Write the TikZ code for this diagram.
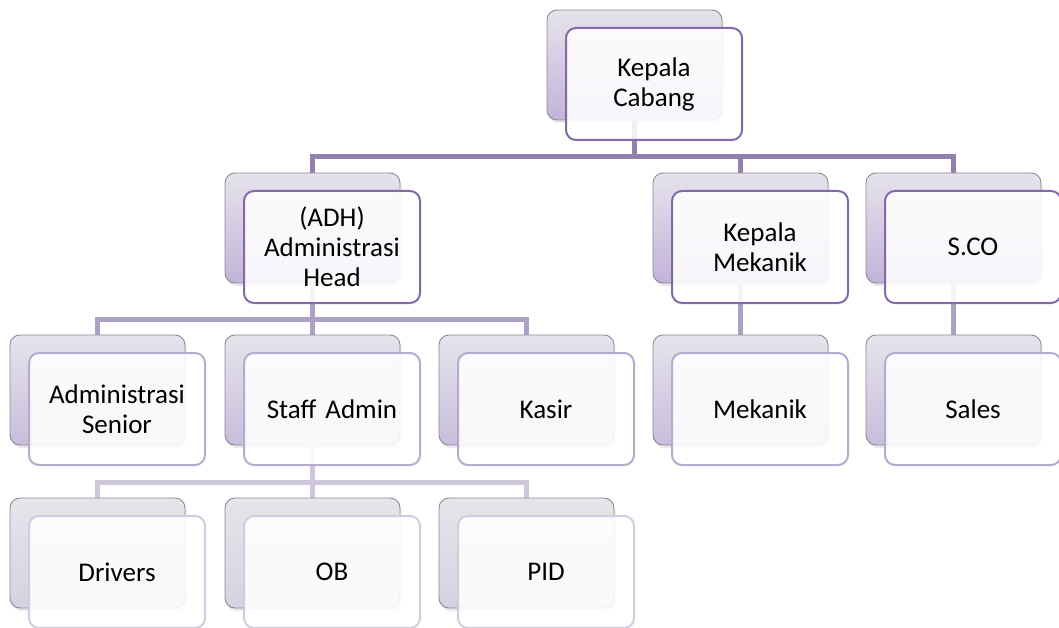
\documentclass[tikz,border=0pt]{standalone}
\usepackage{fontspec}
\setmainfont{Carlito}
\usetikzlibrary{backgrounds,shadows}
\definecolor{conAc}{RGB}{146,128,174}
\definecolor{conBc}{RGB}{172,160,196}
\definecolor{conCc}{RGB}{206,199,220}
\definecolor{frAc}{RGB}{130,106,166}
\definecolor{frBc}{RGB}{182,170,205}
\definecolor{frCc}{RGB}{210,204,224}
\definecolor{bkTopA}{RGB}{230,227,236}
\definecolor{bkBotA}{RGB}{194,179,216}
\definecolor{bkTopB}{RGB}{230,228,236}
\definecolor{bkBotB}{RGB}{200,189,219}
\definecolor{bkTopC}{RGB}{230,229,234}
\definecolor{bkBotC}{RGB}{214,209,225}
\definecolor{bkLine}{RGB}{140,136,150}
\tikzset{
  bkbase/.style={rectangle, rounded corners=10pt, minimum width=175pt, minimum height=110pt,
    inner sep=0pt, outer sep=0pt, draw=bkLine, line width=0.9pt, shading angle=0,
    drop shadow={opacity=0.18, shadow xshift=1.5pt, shadow yshift=-3pt}},
  backboxA/.style={bkbase, top color=bkTopA, bottom color=bkBotA},
  backboxB/.style={bkbase, top color=bkTopB, bottom color=bkBotB},
  backboxC/.style={bkbase, top color=bkTopC, bottom color=bkBotC},
  frbase/.style={rectangle, rounded corners=10pt, minimum width=176pt, minimum height=112pt,
    inner sep=0pt, outer sep=0pt, fill=white, fill opacity=0.88, text opacity=1,
    line width=2pt, align=center, text width=172pt,
    font=\fontsize{27}{30}\selectfont},
  frontboxA/.style={frbase, draw=frAc},
  frontboxB/.style={frbase, draw=frBc},
  frontboxC/.style={frbase, draw=frCc},
  conA/.style={draw=conAc, line width=5pt},
  conB/.style={draw=conBc, line width=5pt},
  conC/.style={draw=conCc, line width=5pt}
}
\newcommand\orgnode[5]{%
  \node[backbox#4, anchor=north west] (#1b) at (#2,#3) {};
  \node[frontbox#4, anchor=north west] (#1) at ([xshift=19pt,yshift=-18pt]#1b.north west) {#5};
}
\begin{document}
\begin{tikzpicture}[x=1pt,y=-1pt]
\useasboundingbox (0,0) rectangle (1059,628);
% level 1
\orgnode{kc}{547}{10}{A}{Kepala\\Cabang}
% level 2
\orgnode{adh}{225}{173}{A}{(ADH)\\Administrasi\\Head}
\orgnode{km}{653}{173}{A}{Kepala\\Mekanik}
\orgnode{sco}{866}{173}{A}{S.CO}
% level 3
\orgnode{as}{10}{335}{B}{Administrasi\\Senior}
\orgnode{sa}{225}{335}{B}{Staff Admin}
\orgnode{kas}{439}{335}{B}{Kasir}
\orgnode{mek}{653}{335}{B}{Mekanik}
\orgnode{sal}{866}{335}{B}{Sales}
% level 4
\orgnode{dr}{10}{498}{C}{Drivers}
\orgnode{ob}{225}{498}{C}{OB}
\orgnode{pid}{439}{498}{C}{PID}
\begin{scope}[on background layer]
  \coordinate (bus1) at ([yshift=16pt]adhb.north);
  \coordinate (bus2) at ([yshift=16pt]sab.north);
  \coordinate (bus3) at ([yshift=16pt]obb.north);
  \draw[conA] (kcb.south) -- (kcb.south |- bus1);
  \draw[conA] (adhb.north) |- (scob.north |- bus1) -- (scob.north);
  \draw[conA] (kmb.north) -- (kmb.north |- bus1);
  \draw[conB] (adhb.south) -- (sab.north);
  \draw[conB] (asb.north) |- (kasb.north |- bus2) -- (kasb.north);
  \draw[conB] (kmb.south) -- (mekb.north);
  \draw[conB] (scob.south) -- (salb.north);
  \draw[conC] (sab.south) -- (obb.north);
  \draw[conC] (drb.north) |- (pidb.north |- bus3) -- (pidb.north);
\end{scope}
\end{tikzpicture}
\end{document}
